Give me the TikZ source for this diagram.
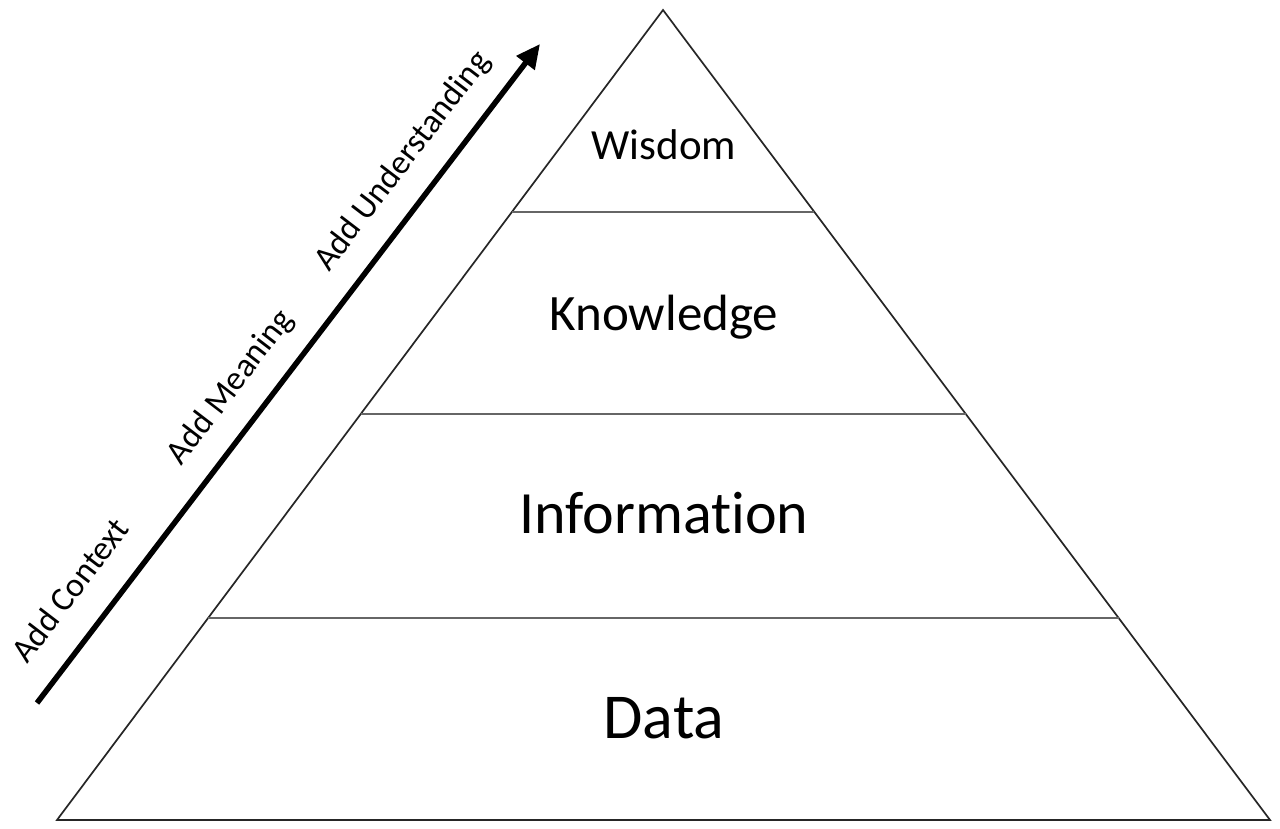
\documentclass[tikz,border=0pt]{standalone}
\usepackage{fontspec}
\setmainfont[Ligatures=NoCommon]{Carlito}
\usetikzlibrary{arrows.meta,calc}
\begin{document}
\begin{tikzpicture}[x=1pt,y=-1pt,
  edge/.style={line width=1.7pt,draw=black!85},
  divider/.style={line width=2.4pt,draw=black!60},
  level/.style={anchor=base,inner sep=0pt},
  sidelabel/.style={anchor=base,inner sep=0pt,rotate=52.6,font=\fontsize{34}{40}\selectfont},
  progress/.style={line width=5.5pt,-{Triangle[length=24pt,width=22pt]}}]
\useasboundingbox[fill=white] (0,0) rectangle (1280,829);
% pyramid
\coordinate (apex) at (663,10);
\coordinate (bl) at (57,820);
\coordinate (br) at (1270,820);
\draw[edge,line join=miter] (apex) -- (bl) -- (br) -- cycle;
\draw[divider] ($(apex)!0.2494!(bl)$) coordinate (w1) -- ($(apex)!0.2494!(br)$) coordinate (w2);
\draw[divider] ($(apex)!0.4988!(bl)$) coordinate (k1) -- ($(apex)!0.4988!(br)$) coordinate (k2);
\draw[divider] ($(apex)!0.7506!(bl)$) coordinate (i1) -- ($(apex)!0.7506!(br)$) coordinate (i2);
% level labels
\node[level,font=\fontsize{43}{50}\selectfont] (wisdom) at (664,160) {Wisdom};
\node[level,font=\fontsize{51}{60}\selectfont] (knowledge) at (664,330) {Knowledge};
\node[level,font=\fontsize{60}{70}\selectfont] (information) at (664,533) {Information};
\node[level,font=\fontsize{64}{76}\selectfont] (data) at (664,738) {Data};
% arrow
\coordinate (tail) at (37,703);
\coordinate (tip) at (540,44);
\draw[progress] (tail) -- (tip);
\node[sidelabel] (context) at (79,597) {Add Context};
\node[sidelabel] (meaning) at (238,393) {Add Meaning};
\node[sidelabel] (understanding) at (410,167) {Add Understanding};
\end{tikzpicture}
\end{document}
